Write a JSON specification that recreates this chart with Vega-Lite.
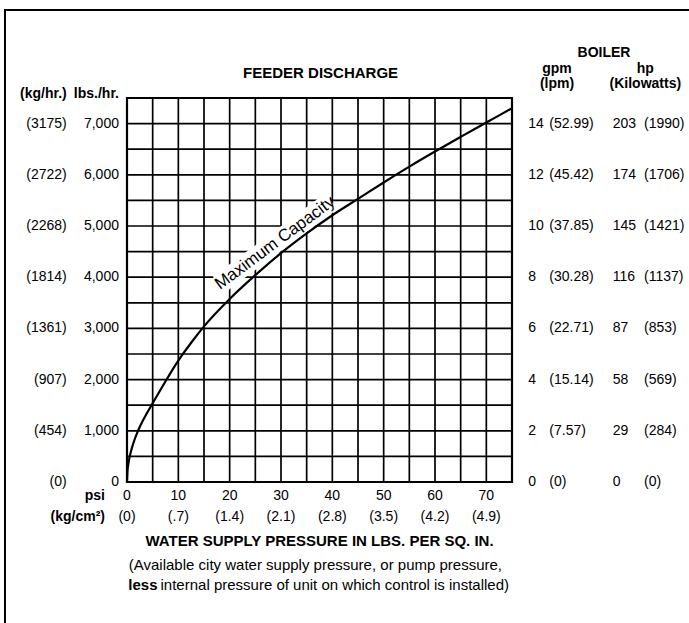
{
  "$schema": "https://vega.github.io/schema/vega-lite/v6.json",
  "width": 385,
  "height": 384,
  "autosize": {"type": "none"},
  "padding": {"left": 127, "top": 98, "right": 177, "bottom": 141},
  "background": "white",
  "config": {
    "font": "Liberation Sans",
    "view": {"stroke": "black", "strokeWidth": 2.2},
    "axis": {"disable": true},
    "text": {"fontSize": 14, "color": "black", "baseline": "middle"}
  },
  "datasets": {
    "curve": [
      {"psi": 0, "lbs": 0}, {"psi": 0.1, "lbs": 216}, {"psi": 0.25, "lbs": 341}, {"psi": 0.5, "lbs": 482},
      {"psi": 0.75, "lbs": 591}, {"psi": 1.0, "lbs": 682}, {"psi": 1.5, "lbs": 835}, {"psi": 2.0, "lbs": 965},
      {"psi": 2.5, "lbs": 1078}, {"psi": 3.0, "lbs": 1181}, {"psi": 3.8, "lbs": 1330}, {"psi": 5.0, "lbs": 1538},
      {"psi": 6.5, "lbs": 1798}, {"psi": 8.0, "lbs": 2050}, {"psi": 9.0, "lbs": 2215}, {"psi": 10.0, "lbs": 2370},
      {"psi": 11.0, "lbs": 2515}, {"psi": 12.5, "lbs": 2720}, {"psi": 15, "lbs": 3040}, {"psi": 20, "lbs": 3575},
      {"psi": 25, "lbs": 4040}, {"psi": 30, "lbs": 4470}, {"psi": 35, "lbs": 4855}, {"psi": 40, "lbs": 5210},
      {"psi": 45, "lbs": 5530}, {"psi": 50, "lbs": 5850}, {"psi": 55, "lbs": 6160}, {"psi": 60, "lbs": 6455},
      {"psi": 65, "lbs": 6740}, {"psi": 70, "lbs": 7020}, {"psi": 75, "lbs": 7300}
    ],
    "vgrid": [
      {"psi": 0}, {"psi": 5}, {"psi": 10}, {"psi": 15}, {"psi": 20}, {"psi": 25}, {"psi": 30}, {"psi": 35},
      {"psi": 40}, {"psi": 45}, {"psi": 50}, {"psi": 55}, {"psi": 60}, {"psi": 65}, {"psi": 70}, {"psi": 75}
    ],
    "hgrid": [
      {"lbs": 0}, {"lbs": 500}, {"lbs": 1000}, {"lbs": 1500}, {"lbs": 2000}, {"lbs": 2500}, {"lbs": 3000}, {"lbs": 3500},
      {"lbs": 4000}, {"lbs": 4500}, {"lbs": 5000}, {"lbs": 5500}, {"lbs": 6000}, {"lbs": 6500}, {"lbs": 7000}, {"lbs": 7500}
    ],
    "labelBand": [{"psi": 17.88, "lbs": 3853}, {"psi": 39.78, "lbs": 5482}],
    "rows": [
      {"lbs": 7000, "kg": "(3175)", "gpm": "14", "lpm": "(52.99)", "hp": "203", "kw": "(1990)"},
      {"lbs": 6000, "kg": "(2722)", "gpm": "12", "lpm": "(45.42)", "hp": "174", "kw": "(1706)"},
      {"lbs": 5000, "kg": "(2268)", "gpm": "10", "lpm": "(37.85)", "hp": "145", "kw": "(1421)"},
      {"lbs": 4000, "kg": "(1814)", "gpm": "8", "lpm": "(30.28)", "hp": "116", "kw": "(1137)"},
      {"lbs": 3000, "kg": "(1361)", "gpm": "6", "lpm": "(22.71)", "hp": "87", "kw": "(853)"},
      {"lbs": 2000, "kg": "(907)", "gpm": "4", "lpm": "(15.14)", "hp": "58", "kw": "(569)"},
      {"lbs": 1000, "kg": "(454)", "gpm": "2", "lpm": "(7.57)", "hp": "29", "kw": "(284)"},
      {"lbs": 0, "kg": "(0)", "gpm": "0", "lpm": "(0)", "hp": "0", "kw": "(0)"}
    ],
    "kgcm": [
      {"psi": 0, "label": "(0)"}, {"psi": 10, "label": "(.7)"}, {"psi": 20, "label": "(1.4)"},
      {"psi": 30, "label": "(2.1)"}, {"psi": 40, "label": "(2.8)"}, {"psi": 50, "label": "(3.5)"},
      {"psi": 60, "label": "(4.2)"}, {"psi": 70, "label": "(4.9)"}
    ],
    "one": [{}]
  },
  "layer": [
    {
      "data": {"name": "vgrid"},
      "mark": {"type": "rule", "stroke": "black", "strokeWidth": 1.7},
      "encoding": {
        "x": {"field": "psi", "type": "quantitative", "scale": {"domain": [0, 75], "nice": false}}
      }
    },
    {
      "data": {"name": "hgrid"},
      "mark": {"type": "rule", "stroke": "black", "strokeWidth": 1.7},
      "encoding": {
        "y": {"field": "lbs", "type": "quantitative", "scale": {"domain": [0, 7500], "nice": false}}
      }
    },
    {
      "data": {"name": "labelBand"},
      "mark": {"type": "line", "stroke": "white", "strokeWidth": 20, "strokeCap": "butt"},
      "encoding": {
        "x": {"field": "psi", "type": "quantitative"},
        "y": {"field": "lbs", "type": "quantitative"}
      }
    },
    {
      "data": {"name": "curve"},
      "mark": {"type": "line", "stroke": "black", "strokeWidth": 2.2, "interpolate": "monotone"},
      "encoding": {
        "x": {"field": "psi", "type": "quantitative"},
        "y": {"field": "lbs", "type": "quantitative"}
      }
    },
    {
      "data": {"name": "one"},
      "mark": {"type": "text", "fontSize": 17, "angle": -36.6, "align": "center"},
      "encoding": {
        "x": {"datum": 28.83, "type": "quantitative"},
        "y": {"datum": 4668, "type": "quantitative"},
        "text": {"value": "Maximum Capacity"}
      }
    },
    {
      "data": {"name": "rows"},
      "mark": {"type": "text", "align": "right"},
      "encoding": {
        "x": {"datum": -1.56, "type": "quantitative"},
        "y": {"field": "lbs", "type": "quantitative"},
        "text": {"field": "lbs", "type": "quantitative", "format": ","}
      }
    },
    {
      "data": {"name": "rows"},
      "mark": {"type": "text", "align": "right"},
      "encoding": {
        "x": {"datum": -11.75, "type": "quantitative"},
        "y": {"field": "lbs", "type": "quantitative"},
        "text": {"field": "kg"}
      }
    },
    {
      "data": {"name": "rows"},
      "mark": {"type": "text", "align": "left"},
      "encoding": {
        "x": {"datum": 78.18, "type": "quantitative"},
        "y": {"field": "lbs", "type": "quantitative"},
        "text": {"field": "gpm"}
      }
    },
    {
      "data": {"name": "rows"},
      "mark": {"type": "text", "align": "left"},
      "encoding": {
        "x": {"datum": 82.27, "type": "quantitative"},
        "y": {"field": "lbs", "type": "quantitative"},
        "text": {"field": "lpm"}
      }
    },
    {
      "data": {"name": "rows"},
      "mark": {"type": "text", "align": "left"},
      "encoding": {
        "x": {"datum": 94.62, "type": "quantitative"},
        "y": {"field": "lbs", "type": "quantitative"},
        "text": {"field": "hp"}
      }
    },
    {
      "data": {"name": "rows"},
      "mark": {"type": "text", "align": "left"},
      "encoding": {
        "x": {"datum": 100.71, "type": "quantitative"},
        "y": {"field": "lbs", "type": "quantitative"},
        "text": {"field": "kw"}
      }
    },
    {
      "data": {"name": "kgcm"},
      "mark": {"type": "text", "align": "center"},
      "encoding": {
        "x": {"field": "psi", "type": "quantitative"},
        "y": {"datum": -273, "type": "quantitative"},
        "text": {"field": "psi", "type": "quantitative"}
      }
    },
    {
      "data": {"name": "kgcm"},
      "mark": {"type": "text", "align": "center"},
      "encoding": {
        "x": {"field": "psi", "type": "quantitative"},
        "y": {"datum": -684, "type": "quantitative"},
        "text": {"field": "label"}
      }
    },
    {
      "data": {"name": "one"},
      "mark": {"type": "text", "align": "right", "fontWeight": "bold"},
      "encoding": {
        "x": {"datum": -4.29, "type": "quantitative"},
        "y": {"datum": -273, "type": "quantitative"},
        "text": {"value": "psi"}
      }
    },
    {
      "data": {"name": "one"},
      "mark": {"type": "text", "align": "right", "fontWeight": "bold"},
      "encoding": {
        "x": {"datum": -4.29, "type": "quantitative"},
        "y": {"datum": -684, "type": "quantitative"},
        "text": {"value": "(kg/cm²)"}
      }
    },
    {
      "data": {"name": "one"},
      "mark": {"type": "text", "align": "right", "fontWeight": "bold"},
      "encoding": {
        "x": {"datum": -11.75, "type": "quantitative"},
        "y": {"datum": 7578, "type": "quantitative"},
        "text": {"value": "(kg/hr.)"}
      }
    },
    {
      "data": {"name": "one"},
      "mark": {"type": "text", "align": "right", "fontWeight": "bold"},
      "encoding": {
        "x": {"datum": -1.56, "type": "quantitative"},
        "y": {"datum": 7578, "type": "quantitative"},
        "text": {"value": "lbs./hr."}
      }
    },
    {
      "data": {"name": "one"},
      "mark": {"type": "text", "align": "center", "fontWeight": "bold", "fontSize": 15},
      "encoding": {
        "x": {"datum": 37.71, "type": "quantitative"},
        "y": {"datum": 7994, "type": "quantitative"},
        "text": {"value": "FEEDER DISCHARGE"}
      }
    },
    {
      "data": {"name": "one"},
      "mark": {"type": "text", "align": "center", "fontWeight": "bold"},
      "encoding": {
        "x": {"datum": 92.92, "type": "quantitative"},
        "y": {"datum": 8380, "type": "quantitative"},
        "text": {"value": "BOILER"}
      }
    },
    {
      "data": {"name": "one"},
      "mark": {"type": "text", "align": "center", "fontWeight": "bold", "lineHeight": 15},
      "encoding": {
        "x": {"datum": 83.77, "type": "quantitative"},
        "y": {"datum": 8066, "type": "quantitative"},
        "text": {"value": ["gpm", "(lpm)"]}
      }
    },
    {
      "data": {"name": "one"},
      "mark": {"type": "text", "align": "center", "fontWeight": "bold", "lineHeight": 15},
      "encoding": {
        "x": {"datum": 100.97, "type": "quantitative"},
        "y": {"datum": 8066, "type": "quantitative"},
        "text": {"value": ["hp", "(Kilowatts)"]}
      }
    },
    {
      "data": {"name": "one"},
      "mark": {"type": "text", "align": "center", "fontWeight": "bold", "fontSize": 15},
      "encoding": {
        "x": {"datum": 37.5, "type": "quantitative"},
        "y": {"datum": -1152, "type": "quantitative"},
        "text": {"value": "WATER SUPPLY PRESSURE IN LBS. PER SQ. IN."}
      }
    },
    {
      "data": {"name": "one"},
      "mark": {"type": "text", "align": "center", "fontSize": 15},
      "encoding": {
        "x": {"datum": 36.7, "type": "quantitative"},
        "y": {"datum": -1621, "type": "quantitative"},
        "text": {"value": "(Available city water supply pressure, or pump pressure,"}
      }
    },
    {
      "data": {"name": "one"},
      "mark": {"type": "text", "align": "left", "fontWeight": "bold", "fontSize": 15},
      "encoding": {
        "x": {"datum": 0.25, "type": "quantitative"},
        "y": {"datum": -2002, "type": "quantitative"},
        "text": {"value": "less"}
      }
    },
    {
      "data": {"name": "one"},
      "mark": {"type": "text", "align": "left", "fontSize": 15},
      "encoding": {
        "x": {"datum": 6.53, "type": "quantitative"},
        "y": {"datum": -2002, "type": "quantitative"},
        "text": {"value": "internal pressure of unit on which control is installed)"}
      }
    },
    {
      "data": {"name": "one"},
      "mark": {"type": "rect", "filled": false, "stroke": "black", "strokeWidth": 2},
      "encoding": {
        "x": {"datum": -23.77, "type": "quantitative"},
        "x2": {"datum": 120},
        "y": {"datum": 9219, "type": "quantitative"},
        "y2": {"datum": -4000}
      }
    }
  ]
}
